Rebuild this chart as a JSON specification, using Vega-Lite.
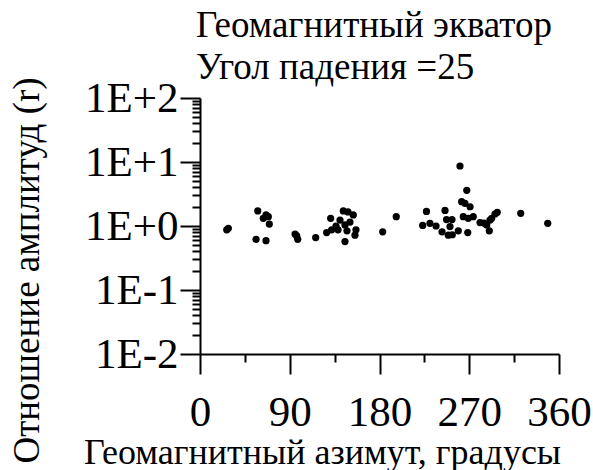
{
  "$schema": "https://vega.github.io/schema/vega-lite/v6.json",
  "width": 359,
  "height": 256,
  "autosize": "none",
  "padding": {"left": 200, "top": 98, "right": 34, "bottom": 116},
  "background": "white",
  "config": {
    "font": "Liberation Serif",
    "view": {"stroke": null},
    "axis": {
      "domainColor": "black",
      "domainWidth": 2,
      "tickColor": "black",
      "tickWidth": 2,
      "labelColor": "black",
      "titleColor": "black",
      "labelFont": "Liberation Serif",
      "titleFont": "Liberation Serif",
      "titleFontWeight": "normal",
      "grid": false
    }
  },
  "title": {
    "text": ["Геомагнитный экватор", "Угол падения =25"],
    "anchor": "start",
    "frame": "group",
    "orient": "top",
    "font": "Liberation Serif",
    "fontSize": 37,
    "fontWeight": "normal",
    "color": "black",
    "lineHeight": 42,
    "baseline": "bottom",
    "offset": 0,
    "dx": -4,
    "dy": 47
  },
  "data": {
    "values": [
      {"azimuth": 26.8, "ratio": 0.87},
      {"azimuth": 28.4, "ratio": 0.92},
      {"azimuth": 57.9, "ratio": 1.72},
      {"azimuth": 56.2, "ratio": 0.62},
      {"azimuth": 66.2, "ratio": 0.59},
      {"azimuth": 63.5, "ratio": 1.32},
      {"azimuth": 68.5, "ratio": 1.40},
      {"azimuth": 69.5, "ratio": 1.07},
      {"azimuth": 66.2, "ratio": 1.49},
      {"azimuth": 97.0, "ratio": 0.70},
      {"azimuth": 98.0, "ratio": 0.62},
      {"azimuth": 95.3, "ratio": 0.75},
      {"azimuth": 116.0, "ratio": 0.66},
      {"azimuth": 127.0, "ratio": 0.79},
      {"azimuth": 131.0, "ratio": 1.32},
      {"azimuth": 132.0, "ratio": 0.87},
      {"azimuth": 143.7, "ratio": 1.72},
      {"azimuth": 148.4, "ratio": 1.66},
      {"azimuth": 153.7, "ratio": 1.49},
      {"azimuth": 140.4, "ratio": 1.24},
      {"azimuth": 145.4, "ratio": 1.04},
      {"azimuth": 150.4, "ratio": 1.15},
      {"azimuth": 138.4, "ratio": 0.87},
      {"azimuth": 145.4, "ratio": 0.57},
      {"azimuth": 155.4, "ratio": 0.72},
      {"azimuth": 156.4, "ratio": 0.87},
      {"azimuth": 136.4, "ratio": 1.0},
      {"azimuth": 147.4, "ratio": 0.84},
      {"azimuth": 183.2, "ratio": 0.81},
      {"azimuth": 196.8, "ratio": 1.40},
      {"azimuth": 227.1, "ratio": 1.69},
      {"azimuth": 223.3, "ratio": 1.02},
      {"azimuth": 230.6, "ratio": 1.10},
      {"azimuth": 236.7, "ratio": 1.0},
      {"azimuth": 242.7, "ratio": 0.81},
      {"azimuth": 245.7, "ratio": 1.75},
      {"azimuth": 247.2, "ratio": 1.26},
      {"azimuth": 252.7, "ratio": 1.26},
      {"azimuth": 250.7, "ratio": 0.98},
      {"azimuth": 249.0, "ratio": 0.72},
      {"azimuth": 253.0, "ratio": 0.73},
      {"azimuth": 259.0, "ratio": 0.84},
      {"azimuth": 260.7, "ratio": 8.66},
      {"azimuth": 267.5, "ratio": 3.61},
      {"azimuth": 262.4, "ratio": 2.40},
      {"azimuth": 265.7, "ratio": 2.26},
      {"azimuth": 270.8, "ratio": 2.0},
      {"azimuth": 264.0, "ratio": 1.40},
      {"azimuth": 269.0, "ratio": 1.32},
      {"azimuth": 274.0, "ratio": 1.40},
      {"azimuth": 268.5, "ratio": 0.79},
      {"azimuth": 280.8, "ratio": 1.13},
      {"azimuth": 284.8, "ratio": 1.11},
      {"azimuth": 287.5, "ratio": 1.04},
      {"azimuth": 290.8, "ratio": 1.24},
      {"azimuth": 290.1, "ratio": 0.84},
      {"azimuth": 292.5, "ratio": 1.32},
      {"azimuth": 295.8, "ratio": 1.54},
      {"azimuth": 298.1, "ratio": 1.64},
      {"azimuth": 321.6, "ratio": 1.58},
      {"azimuth": 348.7, "ratio": 1.10}
    ]
  },
  "mark": {"type": "circle", "size": 52, "color": "black", "opacity": 1},
  "encoding": {
    "x": {
      "field": "azimuth",
      "type": "quantitative",
      "scale": {"domain": [0, 360], "nice": false, "zero": false},
      "axis": {
        "title": "Геомагнитный азимут, градусы",
        "titleFontSize": 36,
        "titleX": 122,
        "titleY": 109,
        "titleAlign": "center",
        "titleBaseline": "alphabetic",
        "values": [0, 45, 90, 135, 180, 225, 270, 315, 360],
        "labelExpr": "datum.value % 90 === 0 ? datum.value : ''",
        "labelFontSize": 43,
        "labelBaseline": "top",
        "labelPadding": 17,
        "labelFlush": false,
        "labelOverlap": false,
        "tickSize": {"condition": {"test": "datum.value % 90 === 0", "value": 20}, "value": 8}
      }
    },
    "y": {
      "field": "ratio",
      "type": "quantitative",
      "scale": {"type": "log", "domain": [0.01, 100], "nice": false},
      "axis": {
        "title": "Отношение амплитуд (r)",
        "titleFontSize": 37,
        "titleAngle": -90,
        "titleX": -162,
        "titleY": 172,
        "titleAlign": "center",
        "titleBaseline": "alphabetic",
        "values": [0.01, 0.02, 0.03, 0.04, 0.05, 0.06, 0.07, 0.08, 0.09,
                   0.1, 0.2, 0.3, 0.4, 0.5, 0.6, 0.7, 0.8, 0.9,
                   1, 2, 3, 4, 5, 6, 7, 8, 9,
                   10, 20, 30, 40, 50, 60, 70, 80, 90, 100],
        "labelExpr": "abs(log(datum.value) / LN10 - round(log(datum.value) / LN10)) < 0.001 ? '1E' + (round(log(datum.value) / LN10) >= 0 ? '+' : '-') + abs(round(log(datum.value) / LN10)) : ''",
        "labelFontSize": 43,
        "labelBaseline": "middle",
        "labelAlign": "right",
        "labelPadding": 2,
        "labelFlush": false,
        "labelOverlap": false,
        "tickSize": {"condition": {"test": "abs(log(datum.value) / LN10 - round(log(datum.value) / LN10)) < 0.001", "value": 20}, "value": 8}
      }
    }
  }
}
